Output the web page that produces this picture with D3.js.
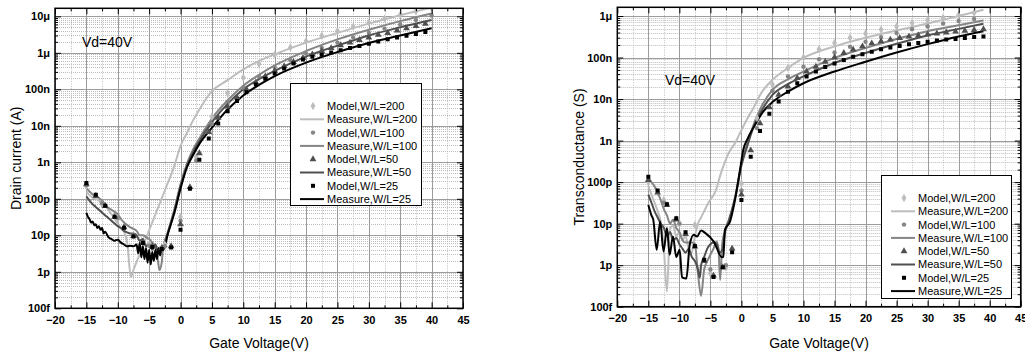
<!DOCTYPE html>
<html>
<head>
<meta charset="utf-8">
<script src="https://cdn.jsdelivr.net/npm/d3@7"></script>
<style>
  body { margin: 0; background: #fff; }
</style>
</head>
<body>
<svg id="chart"></svg>
<script>
const width = 1025, height = 354;
const fontFamily = '"Liberation Sans", Arial, Helvetica, sans-serif';

// x ticks (gate voltage) and y ticks (decades)
const xTickValues = [-20, -15, -10, -5, 0, 5, 10, 15, 20, 25, 30, 35, 40, 45];
const idTickValues = [1e-13, 1e-12, 1e-11, 1e-10, 1e-9, 1e-8, 1e-7, 1e-6, 1e-5];
const idTickLabels = ['100f', '1p', '10p', '100p', '1n', '10n', '100n', '1\u03bc', '10\u03bc'];
const gmTickValues = [1e-13, 1e-12, 1e-11, 1e-10, 1e-9, 1e-8, 1e-7, 1e-6];
const gmTickLabels = ['100f', '1p', '10p', '100p', '1n', '10n', '100n', '1\u03bc'];

// gate voltages of the model points
const vStep15 = [-15, -13.5, -12, -10.5, -9, -7.5, -6, -4.5, -3, -1.5, 0, 1.5, 3, 4.5, 6, 7.5, 9, 10.5, 12, 13.5, 15,
  16.5, 18, 19.5, 21, 22.5, 24, 25.5, 27, 28.5, 30, 31.5, 33, 34.5, 36, 37.5, 39];
const vStep25 = [-15, -12.5, -10, -7.5, -5, -2.5, 0, 2.5, 5, 7.5, 10, 12.5, 15, 17.5, 20, 22.5, 25, 27.5, 30, 32.5, 35, 37.5, 40];

// ---- Drain current, measured [Vg, Id]
const idMeas200 = [[-15,1.58e-10],[-14.5,1.26e-10],[-14,1.07e-10],[-13.5,1.0e-10],[-13,8.9e-11],[-12.5,7.6e-11],[-12,6.3e-11],
  [-11.5,5.0e-11],[-11,3.8e-11],[-10.5,2.8e-11],[-10,2.1e-11],[-9.5,1.58e-11],[-9,1.26e-11],[-8.5,6.3e-12],[-7.9,7.1e-13],
  [-7.5,1.12e-12],[-7,1.86e-12],[-6,5.0e-12],[-5,1.38e-11],[-4,3.8e-11],[-3,1.02e-10],[-2,2.8e-10],[-1,7.9e-10],[0,2.8e-9],
  [1,6.3e-9],[2,1.41e-8],[3,2.8e-8],[5,8.9e-8],[7.5,1.78e-7],[10,3.5e-7],[12.5,6.0e-7],[15,9.1e-7],[20,1.9e-6],[25,3.5e-6],
  [30,6.3e-6],[35,1.07e-5],[40,1.74e-5]];
const idMeas100 = [[-15,2.0e-10],[-14.5,1.58e-10],[-14,1.32e-10],[-13.5,1.17e-10],[-13,1.05e-10],[-12.5,8.9e-11],[-12,7.1e-11],
  [-11.5,5.6e-11],[-11,5.0e-11],[-10.5,4.4e-11],[-10,3.8e-11],[-9.5,2.8e-11],[-9,2.24e-11],[-8.5,1.9e-11],[-8,1.66e-11],
  [-7.5,1.51e-11],[-7,1.32e-11],[-6.5,1.0e-11],[-6,1.0e-11],[-5.5,8.9e-12],[-5,7.9e-12],[-4.5,6.3e-12],[-4,5.0e-12],
  [-3.6,2.0e-12],[-3.35,1.12e-12],[-3,1.78e-12],[-2.8,4.0e-12],[-2,1.26e-11],[-1,5.0e-11],[0,2.5e-10],[1,8.9e-10],[2,2.24e-9],
  [3,4.5e-9],[5,1.58e-8],[7.5,5.0e-8],[10,1.26e-7],[12.5,2.5e-7],[15,4.5e-7],[20,1.12e-6],[25,2.34e-6],[30,4.3e-6],
  [35,7.4e-6],[40,1.2e-5]];
const idMeas50 = [[-15,1.17e-10],[-14.5,8.9e-11],[-14,7.1e-11],[-13.5,6.0e-11],[-13,5.0e-11],[-12.5,4.2e-11],[-12,3.5e-11],
  [-11.5,3.0e-11],[-11,2.5e-11],[-10.5,2.1e-11],[-10,1.78e-11],[-9.5,1.58e-11],[-9,1.32e-11],[-8.5,1.2e-11],[-8,1.12e-11],
  [-7.5,1.12e-11],[-7,1.0e-11],[-6.5,7.1e-12],[-6,7.9e-12],[-5.5,5.0e-12],[-5,6.3e-12],[-4.5,4.0e-12],[-4,5.6e-12],
  [-3.5,3.2e-12],[-3,4.5e-12],[-2.5,6.3e-12],[-2,1.2e-11],[-1,4.5e-11],[0,2.24e-10],[1,7.9e-10],[2,1.9e-9],[3,3.8e-9],
  [5,1.26e-8],[7.5,4.0e-8],[10,1.0e-7],[12.5,1.9e-7],[15,3.2e-7],[20,7.9e-7],[25,1.58e-6],[30,3.0e-6],[35,5.0e-6],[40,7.9e-6]];
const idMeas25 = [[-15,4.1e-11],[-14.75,3.2e-11],[-14.5,2.8e-11],[-14.25,2.24e-11],[-14,2.4e-11],[-13.75,1.9e-11],[-13.5,2.0e-11],
  [-13.25,1.58e-11],[-13,1.78e-11],[-12.75,1.41e-11],[-12.5,1.58e-11],[-12.25,1.12e-11],[-12,1.26e-11],[-11.5,8.9e-12],
  [-11,7.9e-12],[-10.5,7.1e-12],[-10,7.6e-12],[-9.5,6.3e-12],[-9,5.6e-12],[-8.5,5.0e-12],[-8,5.2e-12],[-7.5,5.0e-12],
  [-7,5.6e-12],[-6.75,3.2e-12],[-6.5,6.3e-12],[-6.25,2.5e-12],[-6,5.0e-12],[-5.75,2.24e-12],[-5.5,4.5e-12],[-5.25,1.78e-12],
  [-5,4.0e-12],[-4.75,1.58e-12],[-4.5,3.5e-12],[-4.25,2.0e-12],[-4,4.0e-12],[-3.75,2.24e-12],[-3.5,4.5e-12],[-3.25,2.8e-12],
  [-3,4.5e-12],[-2.75,4.0e-12],[-2,1.12e-11],[-1,4.0e-11],[0,1.9e-10],[1,7.1e-10],[2,1.58e-9],[3,3.2e-9],[5,8.9e-9],
  [7.5,2.8e-8],[10,6.8e-8],[12.5,1.32e-7],[15,2.3e-7],[20,5.4e-7],[25,1.05e-6],[30,1.86e-6],[35,3.0e-6],[40,4.7e-6]];

// ---- Drain current, model
const idModel200 = [2.24e-10,7.1e-11,2.8e-11,1.0e-11,5.6e-12,5.6e-12,3.2e-11,1.41e-9,1.78e-8,7.9e-8,2.1e-7,5.0e-7,8.9e-7,
  1.41e-6,2.1e-6,2.95e-6,4.0e-6,5.2e-6,6.8e-6,8.7e-6,1.1e-5,1.38e-5,1.7e-5];
const idModel100 = [2.4e-10,7.6e-11,3.0e-11,1.0e-11,5.2e-12,5.0e-12,2.5e-11,1.12e-9,1.12e-8,4.5e-8,1.12e-7,2.24e-7,4.0e-7,
  6.3e-7,9.5e-7,1.38e-6,1.9e-6,2.63e-6,3.5e-6,4.6e-6,6.0e-6,7.9e-6,1.05e-5];
const idModel50 = [2.5e-10,1.2e-10,6.3e-11,3.2e-11,1.66e-11,9.5e-12,6.3e-12,5.0e-12,4.5e-12,5.0e-12,2.0e-11,2.1e-10,1.78e-9,
  6.8e-9,1.66e-8,3.4e-8,6.0e-8,1.0e-7,1.55e-7,2.24e-7,3.2e-7,4.3e-7,5.6e-7,7.2e-7,9.1e-7,1.12e-6,1.35e-6,1.62e-6,1.9e-6,
  2.24e-6,2.63e-6,3.1e-6,3.5e-6,4.1e-6,4.7e-6,5.4e-6,6.2e-6];
const idModel25 = [2.7e-10,1.29e-10,6.5e-11,3.2e-11,1.62e-11,9.3e-12,6.2e-12,4.8e-12,4.2e-12,4.6e-12,1.41e-11,1.9e-10,1.17e-9,
  4.5e-9,1.15e-8,2.5e-8,4.8e-8,8.3e-8,1.35e-7,1.95e-7,2.7e-7,3.7e-7,5.1e-7,6.6e-7,7.8e-7,8.9e-7,1.02e-6,1.17e-6,1.35e-6,
  1.55e-6,1.78e-6,2.04e-6,2.34e-6,2.63e-6,2.95e-6,3.3e-6,3.7e-6];

// ---- Transconductance, measured [Vg, gm]
const gmMeas200 = [[-15,7.9e-11],[-14.5,5.0e-11],[-14,3.2e-11],[-13.5,2.0e-11],[-13,1.12e-11],[-12.5,2.5e-12],[-12,2.3e-13],
  [-11.5,7.9e-12],[-11,8.9e-12],[-10.5,5.0e-12],[-10,6.3e-12],[-9.5,4.0e-12],[-9,5.0e-12],[-8.5,2.5e-12],[-8,2.0e-12],
  [-7.5,5.0e-12],[-7,1.0e-11],[-6.5,1.41e-11],[-6,2.0e-11],[-5.5,2.8e-11],[-5,3.8e-11],[-4.5,4.8e-11],[-4,7.1e-11],
  [-3.5,1.32e-10],[-3,2.24e-10],[-2.5,3.5e-10],[-2,5.2e-10],[-1,8.9e-10],[0,1.78e-9],[1,3.5e-9],[2,6.3e-9],[3,1.26e-8],
  [5,2.9e-8],[7.5,5.6e-8],[10,9.8e-8],[15,1.86e-7],[20,3.0e-7],[25,4.5e-7],[30,6.6e-7],[35,1.0e-6],[39,1.41e-6]];
const gmMeas100 = [[-15,1.26e-10],[-14.5,1.0e-10],[-14,7.9e-11],[-13.5,5.6e-11],[-13,3.7e-11],[-12.5,2.24e-11],[-12,1.58e-11],
  [-11.5,1.0e-11],[-11,1.26e-11],[-10.5,7.9e-12],[-10,6.3e-12],[-9.5,4.0e-12],[-9,3.5e-12],[-8.5,3.5e-12],[-8,3.5e-12],
  [-7.5,3.2e-12],[-7,6.3e-13],[-6.5,1.82e-13],[-6,7.9e-13],[-5.5,1.26e-12],[-5,1.78e-12],[-4.5,2.5e-12],[-4,3.7e-12],
  [-3.7,2.5e-12],[-3.43,4.4e-13],[-3.1,3.2e-12],[-2.7,6.3e-12],[-2,1.26e-11],[-1,4.5e-11],[0,2.8e-10],[1,8.9e-10],
  [2,2.5e-9],[3,5.6e-9],[5,1.66e-8],[7.5,3.0e-8],[10,4.6e-8],[15,9.8e-8],[20,1.7e-7],[25,2.8e-7],[30,4.3e-7],[35,6.0e-7],
  [39,7.8e-7]];
const gmMeas50 = [[-15,5.0e-11],[-14.5,3.2e-11],[-14,2.0e-11],[-13.5,1.41e-11],[-13,1.0e-11],[-12.5,7.9e-12],[-12,5.0e-12],
  [-11.5,6.3e-12],[-11,4.0e-12],[-10.5,4.5e-12],[-10,3.2e-12],[-9.5,2.5e-12],[-9,2.0e-12],[-8.5,2.5e-12],[-8,1.58e-12],
  [-7.5,1.26e-12],[-7,7.9e-13],[-6.7,5.0e-13],[-6.5,1.0e-12],[-6,1.58e-12],[-5.5,2.5e-12],[-5,3.2e-12],[-4.5,3.5e-12],
  [-4,3.2e-12],[-3.5,2.0e-12],[-3,2.5e-12],[-2.7,5.6e-12],[-2,1.2e-11],[-1,4.2e-11],[0,2.5e-10],[1,7.9e-10],[2,2.24e-9],
  [3,4.5e-9],[5,1.26e-8],[7.5,2.3e-8],[10,3.5e-8],[15,7.4e-8],[20,1.29e-7],[25,2.14e-7],[30,3.4e-7],[35,4.9e-7],[39,6.5e-7]];
const gmMeas25 = [[-15,2.8e-11],[-14.5,1.58e-11],[-14.2,1.23e-11],[-13.65,2.34e-12],[-13.1,1.12e-11],[-12.55,2.14e-12],
  [-12,7.8e-12],[-11.57,1.78e-12],[-11.03,4.9e-12],[-10.5,1.58e-12],[-9.95,2.34e-12],[-9.57,5.1e-13],[-8.87,4.8e-13],
  [-8.33,3.1e-12],[-7.69,5.4e-12],[-7.15,4.9e-12],[-6.5,6.8e-12],[-5.8,5.9e-12],[-4.46,3.7e-12],[-3.12,1.55e-12],
  [-2.92,1.58e-12],[-2.65,7.1e-12],[-1.84,1.12e-11],[-1.04,3.7e-11],[-0.23,1.95e-10],[0.3,6.0e-10],[1,1.12e-9],[1.9,2.0e-9],
  [3.5,5.0e-9],[5.1,8.7e-9],[7.5,1.51e-8],[10,2.4e-8],[15,4.6e-8],[20,7.9e-8],[25,1.32e-7],[30,2.1e-7],[35,3.2e-7],[39,4.3e-7]];

// ---- Transconductance, model
const gmModel200 = [1.0e-10,3.7e-11,1.02e-11,9.3e-12,6.3e-13,8.9e-13,9.3e-11,3.5e-9,2.24e-8,5.6e-8,1.0e-7,1.58e-7,2.24e-7,
  3.0e-7,3.8e-7,4.7e-7,5.6e-7,6.8e-7,7.9e-7,9.1e-7,1.05e-6,1.2e-6];
const gmModel100 = [1.12e-10,3.2e-11,1.0e-11,2.8e-12,7.9e-13,1.0e-12,6.3e-11,2.0e-9,1.58e-8,3.5e-8,6.0e-8,9.1e-8,1.32e-7,
  1.82e-7,2.4e-7,3.1e-7,3.9e-7,4.8e-7,5.6e-7,6.6e-7,7.6e-7,8.5e-7];
const gmModel50 = [1.12e-10,5.6e-11,2.8e-11,1.26e-11,5.6e-12,2.8e-12,1.26e-12,5.6e-13,8.9e-13,2.5e-12,5.0e-11,5.8e-10,2.6e-9,
  6.3e-9,1.26e-8,2.0e-8,3.2e-8,4.6e-8,6.0e-8,7.9e-8,1.0e-7,1.29e-7,1.55e-7,1.86e-7,2.2e-7,2.45e-7,2.7e-7,2.95e-7,3.2e-7,
  3.4e-7,3.6e-7,3.8e-7,4.0e-7,4.2e-7,4.4e-7,4.6e-7,4.8e-7];
const gmModel25 = [1.35e-10,6.3e-11,2.95e-11,1.35e-11,6.2e-12,2.9e-12,1.35e-12,5.2e-13,8.9e-13,2.04e-12,3.7e-11,4.1e-10,1.7e-9,
  4.4e-9,8.7e-9,1.51e-8,2.4e-8,3.5e-8,4.6e-8,5.9e-8,7.2e-8,8.7e-8,1.05e-7,1.2e-7,1.38e-7,1.58e-7,1.74e-7,1.9e-7,2.1e-7,
  2.24e-7,2.4e-7,2.57e-7,2.7e-7,2.8e-7,2.95e-7,3.1e-7,3.2e-7];

const seriesNames = ['W/L=200', 'W/L=100', 'W/L=50', 'W/L=25'];
const seriesColors = ['#bdbdbd', '#858585', '#4f4f4f', '#000000'];
const seriesSymbols = [d3.symbolDiamond, d3.symbolCircle, d3.symbolTriangle, d3.symbolSquare];
const symbolSizes = [20, 15, 20, 16];

const panels = [
  {
    left: 55, right: 463, top: 8.3, bottom: 308.3, yTop: 1.66e-5,
    tickValues: idTickValues, tickLabels: idTickLabels,
    title: 'Drain current (A)', titleX: 21, vdX: 82, vdY: 47,
    legend: { x: 290, y: 83, w: 131, h: 122 },
    measures: [idMeas200, idMeas100, idMeas50, idMeas25],
    modelX: [vStep25, vStep25, vStep15, vStep15],
    models: [idModel200, idModel100, idModel50, idModel25]
  },
  {
    left: 617.3, right: 1020.7, top: 7.3, bottom: 306.7, yTop: 1.62e-6,
    tickValues: gmTickValues, tickLabels: gmTickLabels,
    title: 'Transconductance (S)', titleX: 584, vdX: 665, vdY: 85,
    legend: { x: 881, y: 175, w: 130, h: 123 },
    measures: [gmMeas200, gmMeas100, gmMeas50, gmMeas25],
    modelX: [vStep25, vStep25, vStep15, vStep15],
    models: [gmModel200, gmModel100, gmModel50, gmModel25]
  }
];

const svg = d3.select('#chart')
  .attr('width', width).attr('height', height)
  .attr('viewBox', `0 0 ${width} ${height}`)
  .style('display', 'block');

svg.append('rect').attr('width', width).attr('height', height).attr('fill', '#fff');

const crisp = v => Math.round(v) + 0.5;

const drawPanel = (p, idx) => {
  const x = d3.scaleLinear().domain([-20, 45]).range([p.left, p.right]);
  const y = d3.scaleLog().domain([1e-13, p.yTop]).range([p.bottom, p.top]);
  const g = svg.append('g');

  const clipId = `clip${idx}`;
  svg.append('defs').append('clipPath').attr('id', clipId)
    .append('rect')
    .attr('x', p.left).attr('y', p.top)
    .attr('width', p.right - p.left).attr('height', p.bottom - p.top);

  const xMinor = xTickValues.slice(0, -1).map(v => v + 2.5);
  const yMinor = [];
  p.tickValues.forEach(d => {
    for (let m = 2; m <= 9; m++) if (m * d < p.yTop) yMinor.push(m * d);
  });

  // Grid
  const grid = g.append('g');
  grid.selectAll('.hminor').data(yMinor).join('line')
    .attr('x1', p.left).attr('x2', p.right)
    .attr('y1', d => crisp(y(d))).attr('y2', d => crisp(y(d)))
    .attr('stroke', '#bdbdbd').attr('stroke-dasharray', '1,1');
  grid.selectAll('.vminor').data(xMinor).join('line')
    .attr('x1', d => crisp(x(d))).attr('x2', d => crisp(x(d)))
    .attr('y1', p.top).attr('y2', p.bottom)
    .attr('stroke', '#bdbdbd').attr('stroke-dasharray', '1,1.5');
  grid.selectAll('.hmajor').data(p.tickValues).join('line')
    .attr('x1', p.left).attr('x2', p.right)
    .attr('y1', d => crisp(y(d))).attr('y2', d => crisp(y(d)))
    .attr('stroke', '#9c9c9c');
  grid.selectAll('.vmajor').data(xTickValues).join('line')
    .attr('x1', d => crisp(x(d))).attr('x2', d => crisp(x(d)))
    .attr('y1', p.top).attr('y2', p.bottom)
    .attr('stroke', '#9c9c9c');

  // Measured curves
  const line = d3.line().x(d => x(d[0])).y(d => y(d[1])).curve(d3.curveMonotoneX);
  const plot = g.append('g').attr('clip-path', `url(#${clipId})`);
  p.measures.forEach((m, i) => {
    plot.append('path')
      .datum(m)
      .attr('fill', 'none')
      .attr('stroke', seriesColors[i])
      .attr('stroke-width', 2)
      .attr('stroke-linejoin', 'round')
      .attr('d', line);
  });

  // Model points
  p.models.forEach((vals, i) => {
    const pts = vals.map((v, j) => [p.modelX[i][j], v]);
    plot.append('g').selectAll('path').data(pts).join('path')
      .attr('transform', d => `translate(${x(d[0])},${y(d[1])})`)
      .attr('d', d3.symbol().type(seriesSymbols[i]).size(symbolSizes[i]))
      .attr('fill', seriesColors[i]);
  });

  // Axes, ticks inward on all sides
  const styleAxis = a => {
    a.select('.domain').remove();
    a.attr('font-family', fontFamily).attr('font-size', 11).attr('font-weight', 'bold');
    a.selectAll('line').attr('stroke', '#000');
    a.selectAll('text').attr('fill', '#000');
  };
  g.append('g').attr('transform', `translate(0,${p.bottom})`)
    .call(d3.axisBottom(x).tickValues(xTickValues).tickSize(-6).tickPadding(8).tickSizeOuter(0)).call(styleAxis);
  g.append('g').attr('transform', `translate(0,${p.bottom})`)
    .call(d3.axisBottom(x).tickValues(xMinor).tickSize(-3).tickFormat('').tickSizeOuter(0)).call(styleAxis);
  g.append('g').attr('transform', `translate(0,${p.top})`)
    .call(d3.axisTop(x).tickValues(xTickValues).tickSize(-6).tickFormat('').tickSizeOuter(0)).call(styleAxis);
  g.append('g').attr('transform', `translate(0,${p.top})`)
    .call(d3.axisTop(x).tickValues(xMinor).tickSize(-3).tickFormat('').tickSizeOuter(0)).call(styleAxis);
  g.append('g').attr('transform', `translate(${p.left},0)`)
    .call(d3.axisLeft(y).tickValues(p.tickValues).tickFormat((d, i) => p.tickLabels[i])
      .tickSize(-6).tickPadding(5).tickSizeOuter(0)).call(styleAxis);
  g.append('g').attr('transform', `translate(${p.left},0)`)
    .call(d3.axisLeft(y).tickValues(yMinor).tickFormat('').tickSize(-3).tickSizeOuter(0)).call(styleAxis);
  g.append('g').attr('transform', `translate(${p.right},0)`)
    .call(d3.axisRight(y).tickValues(p.tickValues).tickFormat('').tickSize(-6).tickSizeOuter(0)).call(styleAxis);
  g.append('g').attr('transform', `translate(${p.right},0)`)
    .call(d3.axisRight(y).tickValues(yMinor).tickFormat('').tickSize(-3).tickSizeOuter(0)).call(styleAxis);

  // Frame
  g.append('rect')
    .attr('x', p.left).attr('y', p.top)
    .attr('width', p.right - p.left).attr('height', p.bottom - p.top)
    .attr('fill', 'none').attr('stroke', '#000').attr('stroke-width', 1.5);

  // Axis titles
  g.append('text')
    .attr('x', (p.left + p.right) / 2).attr('y', 348)
    .attr('text-anchor', 'middle')
    .attr('font-family', fontFamily).attr('font-size', 14)
    .text('Gate Voltage(V)');
  g.append('text')
    .attr('transform', `translate(${p.titleX},${(p.top + p.bottom) / 2}) rotate(-90)`)
    .attr('text-anchor', 'middle')
    .attr('font-family', fontFamily).attr('font-size', 14)
    .text(p.title);

  g.append('text')
    .attr('x', p.vdX).attr('y', p.vdY)
    .attr('font-family', fontFamily).attr('font-size', 14)
    .text('Vd=40V');

  // Legend
  const lg = g.append('g').attr('transform', `translate(${p.legend.x},${p.legend.y})`);
  lg.append('rect')
    .attr('x', 0.5).attr('y', 0.5).attr('width', p.legend.w).attr('height', p.legend.h)
    .attr('fill', '#fff').attr('stroke', '#000').attr('stroke-width', 1);
  const rows = [];
  seriesNames.forEach((name, i) => {
    rows.push({ kind: 'model', i, label: `Model,${name}` });
    rows.push({ kind: 'measure', i, label: `Measure,${name}` });
  });
  rows.forEach((r, k) => {
    const ry = 23 + k * 13.3;
    if (r.kind === 'model') {
      lg.append('path')
        .attr('transform', `translate(23,${ry})`)
        .attr('d', d3.symbol().type(seriesSymbols[r.i]).size(symbolSizes[r.i]))
        .attr('fill', seriesColors[r.i]);
    } else {
      lg.append('line')
        .attr('x1', 10).attr('x2', 34).attr('y1', ry).attr('y2', ry)
        .attr('stroke', seriesColors[r.i]).attr('stroke-width', 2);
    }
    lg.append('text')
      .attr('x', 37).attr('y', ry).attr('dy', '0.36em')
      .attr('font-family', fontFamily).attr('font-size', 11)
      .text(r.label);
  });
};

panels.forEach(drawPanel);
</script>
</body>
</html>
